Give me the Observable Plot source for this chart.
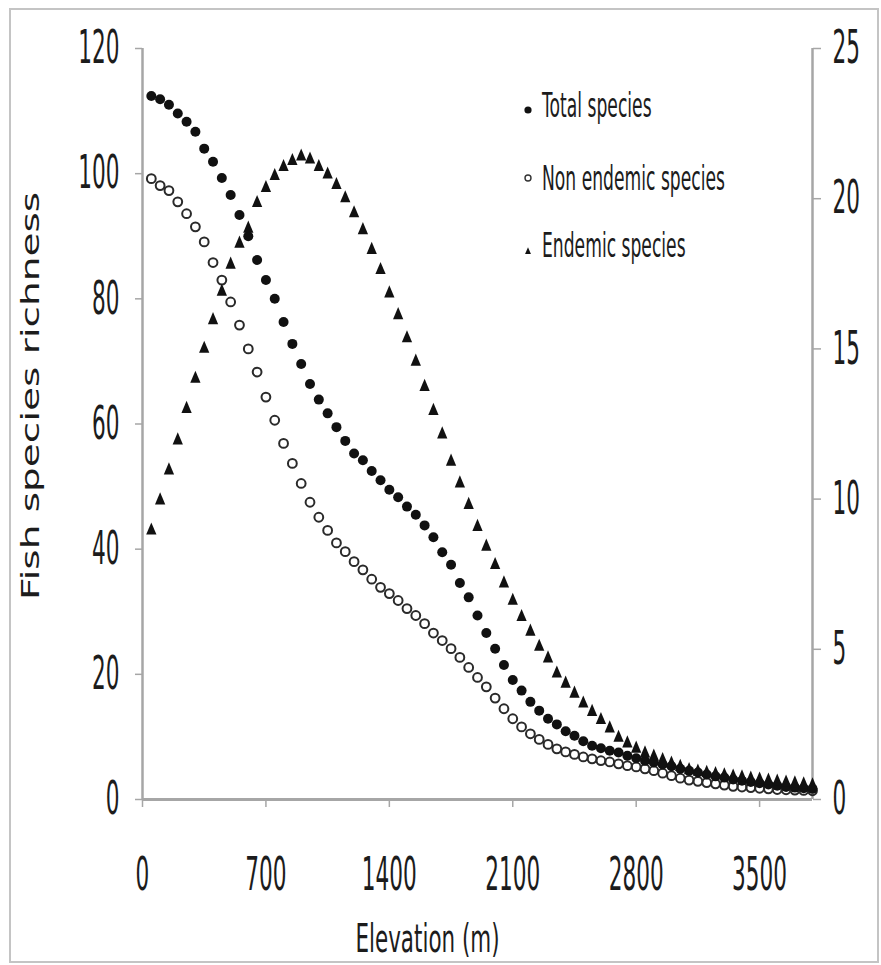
<!DOCTYPE html>
<html>
<head>
<meta charset="utf-8">
<script src="https://cdn.jsdelivr.net/npm/d3@7"></script>
<script src="https://cdn.jsdelivr.net/npm/@observablehq/plot@0.6"></script>
<style>
html, body { margin: 0; padding: 0; background: #fff; }
#chart { position: relative; width: 881px; height: 965px; }
</style>
</head>
<body>
<div id="chart"></div>
<script>
// ---------- data ----------
const elevation = [50,100,150,200,250,300,350,400,450,500,
  550,600,650,700,750,800,850,900,950,1000,
  1050,1100,1150,1200,1250,1300,1350,1400,1450,1500,
  1550,1600,1650,1700,1750,1800,1850,1900,1950,2000,
  2050,2100,2150,2200,2250,2300,2350,2400,2450,2500,
  2550,2600,2650,2700,2750,2800,2850,2900,2950,3000,
  3050,3100,3150,3200,3250,3300,3350,3400,3450,3500,
  3550,3600,3650,3700,3750,3800];

const totalSpecies = [112.4,111.9,111.0,109.6,108.3,106.7,104.0,101.9,99.3,96.6,
  93.4,90.0,86.2,83.0,80.0,76.3,72.8,69.6,66.4,63.9,
  61.7,59.5,57.3,55.3,54.2,52.5,51.0,49.5,48.3,46.8,
  45.5,43.8,41.9,39.5,37.5,34.6,32.3,29.4,26.6,24.1,
  21.5,19.1,17.4,15.6,14.2,12.9,12.0,10.9,10.2,9.3,
  8.6,8.2,7.8,7.5,7.0,6.6,6.2,5.9,5.6,5.3,
  4.9,4.6,4.3,4.0,3.7,3.5,3.2,3.0,2.8,2.6,
  2.4,2.2,2.0,1.9,1.8,1.7];

const nonEndemicSpecies = [99.2,98.1,97.3,95.5,93.6,91.5,89.1,85.8,83.0,79.5,
  75.8,72.0,68.3,64.3,60.6,56.9,53.7,50.5,47.5,45.1,
  43.0,41.0,39.6,38.0,36.7,35.2,33.9,32.9,31.8,30.5,
  29.4,28.1,26.6,25.4,24.1,22.7,21.1,19.5,18.0,16.2,
  14.5,12.9,11.6,10.5,9.6,8.8,8.1,7.6,7.2,6.8,
  6.5,6.2,6.0,5.7,5.4,5.2,4.9,4.6,4.2,3.8,
  3.4,3.1,2.9,2.7,2.5,2.3,2.1,2.0,1.9,1.8,
  1.7,1.6,1.55,1.5,1.45,1.4];

// endemic species, read on the right-hand axis (0-25)
const endemicSpecies = [9.0,10.0,11.0,12.0,13.05,14.05,15.05,16.0,16.95,17.85,
  18.55,19.05,19.9,20.4,20.8,21.1,21.3,21.45,21.35,21.1,
  20.85,20.5,20.06,19.56,19.0,18.34,17.67,16.89,16.17,15.4,
  14.62,13.78,12.98,12.2,11.29,10.57,9.85,9.12,8.46,7.85,
  7.24,6.66,6.12,5.63,5.13,4.74,4.24,3.9,3.57,3.24,
  2.96,2.69,2.41,2.1,1.91,1.74,1.58,1.47,1.36,1.24,
  1.13,1.02,0.97,0.93,0.89,0.85,0.81,0.78,0.74,0.71,
  0.67,0.64,0.61,0.58,0.55,0.52];

const xTicks = [0,700,1400,2100,2800,3500];
const leftTicks = [0,20,40,60,80,100,120];
const rightTicks = [0,5,10,15,20,25];
const xDomain = [0,3800];
const leftDomain = [0,120];
const rightDomain = [0,25];
const seriesNames = ["Total species","Non endemic species","Endemic species"];
const xLabel = "Elevation (m)";
const yLabel = "Fish species richness";

// ---------- build ----------
const K = leftDomain[1] / rightDomain[1];
const rows = elevation.map((e, i) => ({
  e, total: totalSpecies[i], non: nonEndemicSpecies[i], end: endemicSpecies[i] * K
}));

const ink = "#111";
const axisColor = "#a6a6a6";
const font = "DejaVu Sans";

// narrow triangle (the reference is horizontally squeezed)
const narrowTriangle = {
  draw(ctx, size) {
    const r = Math.sqrt(size / Math.PI);
    ctx.moveTo(0, -1.25 * r);
    ctx.lineTo(0.95 * r, 1.0 * r);
    ctx.lineTo(-0.95 * r, 1.0 * r);
    ctx.closePath();
  }
};

const plot = Plot.plot({
  width: 881,
  height: 965,
  marginLeft: 142,
  marginRight: 69,
  marginTop: 48,
  marginBottom: 166,
  x: {domain: xDomain},
  y: {domain: leftDomain},
  style: {fontFamily: font, fontSize: "46px", background: "white", overflow: "visible"},
  marks: [
    Plot.axisX(xTicks, {anchor: "bottom", tickSize: 8, tickPadding: 50, label: null, color: axisColor, strokeWidth: 1.5,
      tickFormat: d => String(d)}),
    Plot.axisY(leftTicks, {anchor: "left", tickSize: 7, tickPadding: 16, label: null, color: axisColor, strokeWidth: 1.5,
      tickFormat: d => String(d)}),
    Plot.axisY(rightTicks.map(t => t * K), {anchor: "right", tickSize: 8, tickPadding: 12, label: null,
      tickFormat: d => String(Math.round(d / K)), color: axisColor, strokeWidth: 1.5}),
    Plot.ruleX(xDomain, {stroke: axisColor, strokeWidth: 2.5}),
    Plot.ruleY([0], {stroke: axisColor, strokeWidth: 3}),
    Plot.dot(rows, {x: "e", y: "non", r: 4.4, stroke: "#2a2a2a", strokeWidth: 2, fill: "none"}),
    Plot.dot(rows, {x: "e", y: "total", r: 5, fill: ink, stroke: "none"}),
    Plot.dot(rows, {x: "e", y: "end", symbol: narrowTriangle, r: 5.4, fill: ink, stroke: "none"})
  ]
});

document.getElementById("chart").appendChild(plot);

const svg = d3.select(plot);

function squeeze(node, sx, sy) {
  const el = d3.select(node);
  let tr = el.attr("transform") || "";
  const xa = el.attr("x");
  if (xa != null && !/em$/.test(xa)) { tr += ` translate(${xa},0)`; el.attr("x", null); }
  const ya = el.attr("y");
  if (ya != null && !/em$/.test(ya)) { tr += ` translate(0,${ya})`; el.attr("y", null); }
  el.attr("transform", `${tr} scale(${sx},${sy})`);
}

svg.selectAll('g[aria-label$="tick label"]').attr("fill", "#1c1c1c");
svg.selectAll('g[aria-label$="tick label"] text').each(function () { squeeze(this, 0.47, 1); });

// axis titles
svg.append("text")
  .attr("transform", "translate(427.5,952) scale(0.55,1)")
  .attr("text-anchor", "middle")
  .attr("font-family", font)
  .attr("font-size", 39)
  .attr("fill", "#1c1c1c")
  .text(xLabel);

svg.append("text")
  .attr("transform", "translate(39,396) rotate(-90) scale(1,0.63)")
  .attr("text-anchor", "middle")
  .attr("font-family", font)
  .attr("font-size", 39)
  .attr("fill", "#1c1c1c")
  .text(yLabel);

// legend
const legend = svg.append("g").attr("font-family", font).attr("fill", "#1c1c1c").attr("text-anchor", "start");
const legendBaselines = [117, 190, 257];
const legendMarkerY = [110, 178, 251];
seriesNames.forEach((name, i) => {
  legend.append("text")
    .attr("transform", `translate(542,${legendBaselines[i]}) scale(0.52,1)`)
    .attr("text-anchor", "start")
    .attr("font-size", 33)
    .text(name);
});
legend.append("circle").attr("cx", 528).attr("cy", legendMarkerY[0]).attr("r", 3.6).attr("fill", ink);
legend.append("circle").attr("cx", 528).attr("cy", legendMarkerY[1]).attr("r", 3).attr("fill", "none").attr("stroke", "#333").attr("stroke-width", 1.4);
legend.append("path").attr("d", d3.symbol(narrowTriangle, 30)()).attr("transform", `translate(528,${legendMarkerY[2]})`).attr("fill", ink);

// outer border
svg.append("rect").attr("x", 10).attr("y", 9).attr("width", 868).attr("height", 953)
  .attr("fill", "none").attr("stroke", "#c4c4c4").attr("stroke-width", 2);
</script>
</body>
</html>
